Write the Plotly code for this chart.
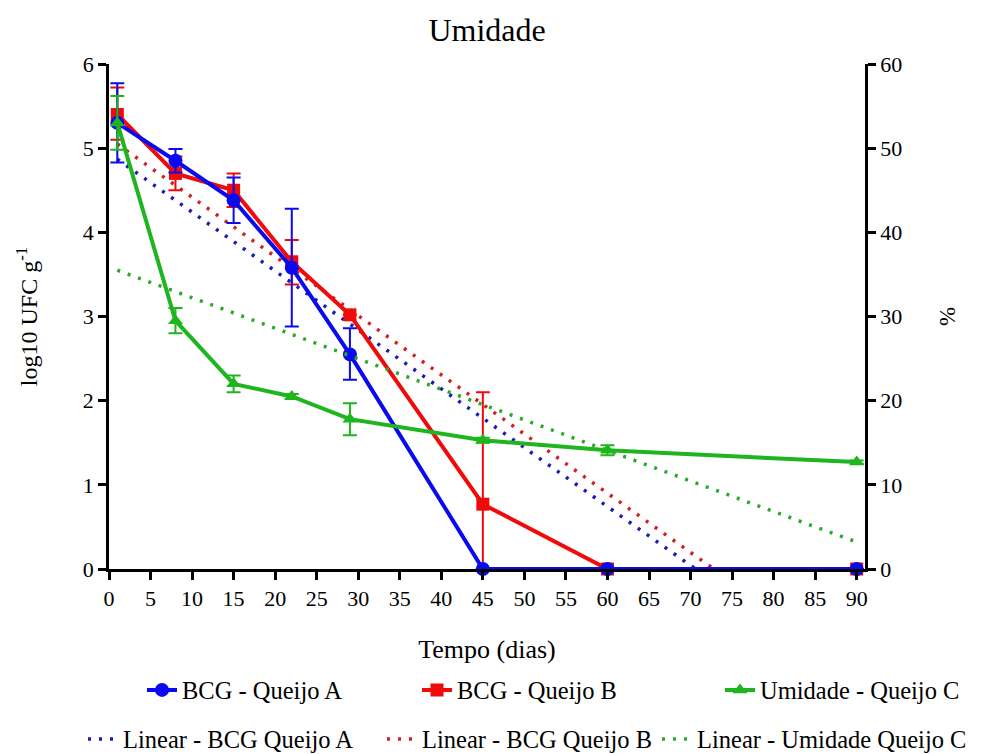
import plotly.graph_objects as go

# ---- data ----
days = [1, 8, 15, 22, 29, 45, 60, 90]

bcg_a = [5.30, 4.85, 4.38, 3.58, 2.55, 0.0, 0.0, 0.0]
bcg_a_err_up = [0.47, 0.14, 0.27, 0.70, 0.31, 0.0, 0.0, 0.0]
bcg_a_err_dn = [0.47, 0.14, 0.27, 0.70, 0.30, 0.0, 0.0, 0.0]

bcg_b = [5.40, 4.70, 4.50, 3.65, 3.02, 0.77, 0.0, 0.0]
bcg_b_err_up = [0.32, 0.20, 0.20, 0.26, 0.0, 1.33, 0.0, 0.0]
bcg_b_err_dn = [0.30, 0.20, 0.20, 0.27, 0.0, 0.77, 0.0, 0.0]

umid_c = [53.0, 29.5, 22.0, 20.5, 17.8, 15.3, 14.1, 12.7]   # %
umid_c_err = [3.2, 1.5, 1.0, 0.3, 1.9, 0.3, 0.6, 0.2]

# linear trend lines (end points)
lin_a_x = [1, 70.6]
lin_a_y = [4.87, 0.0]
lin_b_x = [1, 72.8]
lin_b_y = [5.05, 0.0]
lin_c_x = [1, 90]
lin_c_y = [35.5, 3.2]   # %

x_ticks = list(range(0, 95, 5))
y_left_ticks = [0, 1, 2, 3, 4, 5, 6]
y_right_ticks = [0, 10, 20, 30, 40, 50, 60]

BLUE = "#0a0af0"
RED = "#f00a0a"
GREEN = "#1fb51f"
FONT = "Liberation Serif"

fig = go.Figure()

# trend lines (drawn under)
fig.add_trace(go.Scatter(x=lin_a_x, y=lin_a_y, mode="lines", name="Linear - BCG Queijo A",
                         line=dict(color="#1a1ab4", width=3.5, dash="3px,8px"), legend="legend4"))
fig.add_trace(go.Scatter(x=lin_b_x, y=lin_b_y, mode="lines", name="Linear - BCG Queijo B",
                         line=dict(color="#d42020", width=3.5, dash="3px,8px"), legend="legend5"))
fig.add_trace(go.Scatter(x=lin_c_x, y=lin_c_y, mode="lines", name="Linear - Umidade Queijo C",
                         yaxis="y2",
                         line=dict(color="#2aaa2a", width=3.5, dash="3px,8px"), legend="legend6"))

# main series
fig.add_trace(go.Scatter(x=days, y=umid_c, mode="lines+markers", name="Umidade - Queijo C",
                         yaxis="y2", cliponaxis=False,
                         line=dict(color=GREEN, width=4),
                         marker=dict(symbol="triangle-up", size=13, color=GREEN),
                         error_y=dict(type="data", array=umid_c_err, color=GREEN, thickness=2, width=7),
                         legend="legend3"))
fig.add_trace(go.Scatter(x=days, y=bcg_b, mode="lines+markers", name="BCG - Queijo B",
                         cliponaxis=False,
                         line=dict(color=RED, width=4),
                         marker=dict(symbol="square", size=13, color=RED),
                         error_y=dict(type="data", array=bcg_b_err_up, arrayminus=bcg_b_err_dn,
                                      color=RED, thickness=2, width=7),
                         legend="legend2"))
fig.add_trace(go.Scatter(x=days, y=bcg_a, mode="lines+markers", name="BCG - Queijo A",
                         cliponaxis=False,
                         line=dict(color=BLUE, width=4),
                         marker=dict(symbol="circle", size=14, color=BLUE),
                         error_y=dict(type="data", array=bcg_a_err_up, arrayminus=bcg_a_err_dn,
                                      color=BLUE, thickness=2, width=7),
                         legend="legend"))

axis_common = dict(showline=True, linecolor="black", linewidth=2.5, ticks="outside",
                   ticklen=8, tickwidth=2.5, tickcolor="black", showgrid=False, zeroline=False,
                   automargin=False,
                   tickfont=dict(family=FONT, size=22, color="black"))

PL, PW, PT, PH = 109, 756, 64, 505


def px_to_paper_x(px):
    return (px - PL) / PW


def px_to_paper_y(py):
    return (PT + PH - py) / PH


def leg(text_left_px, center_y_px):
    return dict(orientation="h", x=px_to_paper_x(text_left_px - 40), xanchor="left",
                y=px_to_paper_y(center_y_px), yanchor="middle",
                font=dict(family=FONT, size=24.5, color="black"), bgcolor="rgba(0,0,0,0)")


fig.update_layout(
    width=992, height=754,
    margin=dict(l=PL, r=992 - PL - PW, t=PT, b=754 - PT - PH, autoexpand=False),
    paper_bgcolor="white", plot_bgcolor="white",
    font=dict(family=FONT, color="black"),
    title=dict(text="Umidade", x=0.491, xanchor="center", y=0.96, yanchor="middle",
               font=dict(family=FONT, size=32, color="black")),
    xaxis=dict(range=[0, 91.0], tickvals=x_ticks,
               title=dict(text="Tempo (dias)", font=dict(family=FONT, size=26), standoff=30),
               **axis_common),
    yaxis=dict(range=[0, 6], tickvals=y_left_ticks,
               title=dict(text="log10 UFC g<sup>-1</sup>", font=dict(family=FONT, size=24), standoff=39),
               **axis_common),
    yaxis2=dict(range=[0, 60], tickvals=y_right_ticks, overlaying="y", side="right",
                title=dict(text="%", font=dict(family=FONT, size=23), standoff=38),
                **axis_common),
    legend=leg(182, 690),
    legend2=leg(457, 690),
    legend3=leg(760, 690),
    legend4=leg(123, 739),
    legend5=leg(422, 739),
    legend6=leg(697, 739),
    showlegend=True,
)

fig.write_html("out.html", config={"displayModeBar": False},
               post_script="document.body.style.margin='0';document.body.style.overflow='hidden';")
